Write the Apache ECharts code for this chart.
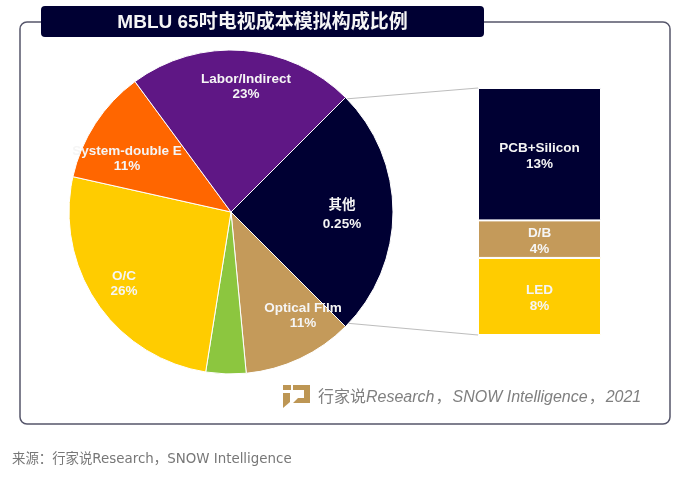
<!DOCTYPE html>
<html>
<head>
<meta charset="utf-8">
<style>
html, body { margin: 0; padding: 0; background: #fff; }
#main { width: 680px; height: 477px; }
</style>
<script src="https://cdn.jsdelivr.net/npm/echarts@6/dist/echarts.min.js"></script>
</head>
<body>
<div id="main"></div>
<script>
var titleText = "MBLU 65吋电视成本模拟构成比例";

// clockwise from the upper right edge of the pie
var pieNames = ["其他", "Optical Film", "", "O/C", "System-double E", "Labor/Indirect"];
var pieValues = [25, 11, 4, 26, 11.4, 22.6];
var pieTexts = ["0.25%", "11%", "", "26%", "11%", "23%"];

// bottom to top, texts as printed
var barNames = ["LED", "D/B", "PCB+Silicon"];
var barValues = [7.8, 3.8, 13.4];
var barTexts = ["8%", "4%", "13%"];

var font = '"Liberation Sans", "Noto Sans CJK SC", sans-serif';
var pieColors = ["#000033", "#c49a5a", "#8cc63f", "#ffcc00", "#ff6600", "#5f1785"];
var barColors = ["#ffcc00", "#c49a5a", "#000033"];
var labelAt = [[342, 215], [303, 316], [0, 0], [124, 284], [127, 159], [246, 87]];

var series = [{
    type: "pie",
    center: [231, 212],
    radius: [0, 162],
    startAngle: 45,
    clockwise: true,
    silent: true,
    z: 3,
    itemStyle: { borderColor: "#fff", borderWidth: 1 },
    label: {
        show: true,
        position: "inside",
        color: "#f5f5f5",
        fontFamily: font,
        fontWeight: "bold",
        fontSize: 13.5,
        lineHeight: 15.5,
        align: "center",
        formatter: function (p) {
            return p.name ? p.name + "\n" + pieTexts[p.dataIndex] : "";
        }
    },
    labelLine: { show: false },
    labelLayout: function (p) {
        var at = labelAt[p.dataIndex];
        return { x: at[0], y: at[1], align: "center", verticalAlign: "middle" };
    },
    data: pieNames.map(function (n, i) {
        var item = { name: n, value: pieValues[i], itemStyle: { color: pieColors[i] } };
        // the Chinese label sits on looser lines
        if (i == 0) {
            item.label = { lineHeight: 19.5 };
        }
        return item;
    })
}];

barNames.forEach(function (n, i) {
    series.push({
        type: "bar",
        name: n,
        stack: "total",
        barWidth: "100%",
        silent: true,
        z: 3,
        itemStyle: { color: barColors[i], borderColor: "#fff", borderWidth: 1 },
        label: {
            show: true,
            position: "inside",
            offset: [0, 2],
            color: "#f5f5f5",
            fontFamily: font,
            fontWeight: "bold",
            fontSize: 13.5,
            lineHeight: 15.5,
            formatter: n + "\n" + barTexts[i]
        },
        data: [barValues[i]]
    });
});

var option = {
    animation: false,
    backgroundColor: "#fff",
    grid: { left: 478, top: 88, width: 123, height: 247 },
    xAxis: { type: "category", data: ["bar"], show: false },
    yAxis: { type: "value", min: 0, max: 25, show: false },
    series: series,
    graphic: [
        // outer frame
        { type: "rect", z: 1, shape: { x: 20, y: 22, width: 650, height: 402, r: 7 },
          style: { fill: "#fff", stroke: "#55556a", lineWidth: 1.5 } },
        // title bar
        { type: "rect", z: 2, shape: { x: 41, y: 6, width: 443, height: 31, r: 4 },
          style: { fill: "#000033" } },
        { type: "text", z: 4, x: 262.5, y: 23,
          style: { text: titleText, fill: "#f5f5f5", font: "bold 19px " + font,
                   align: "center", verticalAlign: "middle" } },
        // connectors from pie to bar
        { type: "line", z: 2, shape: { x1: 345, y1: 99, x2: 478, y2: 88 },
          style: { stroke: "#bdbdbd", lineWidth: 1 } },
        { type: "line", z: 2, shape: { x1: 345, y1: 323, x2: 478, y2: 335 },
          style: { stroke: "#bdbdbd", lineWidth: 1 } },
        // logo
        { type: "rect", z: 4, shape: { x: 283, y: 385, width: 8, height: 5 },
          style: { fill: "#bd9654" } },
        { type: "polygon", z: 4,
          shape: { points: [[283, 393], [290, 393], [290, 402], [283, 408]] },
          style: { fill: "#bd9654" } },
        { type: "polygon", z: 4,
          shape: { points: [[293, 385], [310, 385], [310, 403], [293, 403], [298, 398], [304, 398], [304, 390], [293, 390]] },
          style: { fill: "#bd9654" } },
        // credit inside the frame
        { type: "text", z: 4, x: 318, y: 398,
          style: {
              text: "{a|行家说}{b|Research}{c|，}{b|SNOW Intelligence}{c|，}{b|2021}",
              verticalAlign: "middle",
              rich: {
                  a: { fontFamily: font, fontSize: 16, fill: "#7f7f7f" },
                  b: { fontFamily: font, fontStyle: "italic", fontSize: 16, fill: "#7f7f7f" },
                  c: { fontFamily: font, fontSize: 16, fill: "#7f7f7f", padding: [0, 1, 0, 1] }
              }
          } },
        // source line
        { type: "text", z: 4, x: 12, y: 460,
          style: { text: "来源：行家说Research，SNOW Intelligence", fill: "#777",
                   font: '13.4px "DejaVu Sans", "Noto Sans CJK SC", sans-serif', verticalAlign: "middle" } }
    ]
};

var myChart = echarts.init(document.getElementById("main"));
myChart.setOption(option);
</script>
</body>
</html>
